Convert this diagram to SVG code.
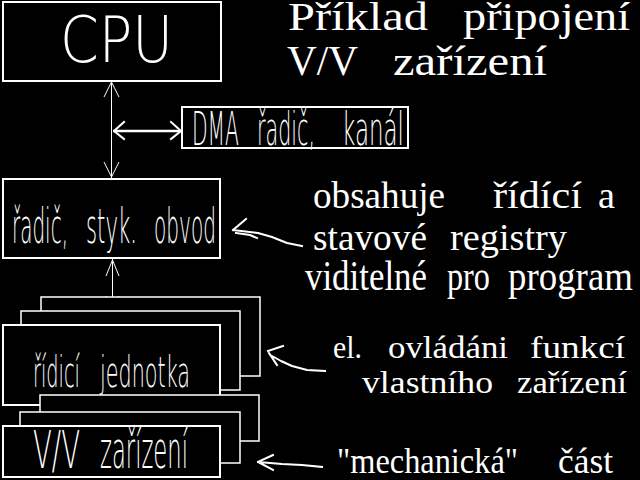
<svg xmlns="http://www.w3.org/2000/svg" width="640" height="480" viewBox="0 0 640 480">
<defs>
<style>
.bg{fill:#000}
.box{fill:#000;stroke:#fff;stroke-width:2}
.bk{fill:#000;stroke:#fff;stroke-width:1.5}
.ln{fill:none;stroke:#fff;stroke-width:1}
.thick{fill:none;stroke:#fff;stroke-width:2.5}
.hand{fill:none;stroke:#fff;stroke-width:2;stroke-linecap:square;stroke-linejoin:round}
.sans{font-family:"DejaVu Sans","Liberation Sans",sans-serif;font-weight:200;fill:#fff}
.serif{font-family:"Liberation Serif","DejaVu Serif",serif;fill:#fff}
</style>
</defs>
<rect class="bg" x="0" y="0" width="640" height="480"/>

<g id="title">
<text class="serif" font-size="41" y="30"><tspan x="288" textLength="140" lengthAdjust="spacingAndGlyphs">Příklad</tspan><tspan x="463" textLength="167" lengthAdjust="spacingAndGlyphs">připojení</tspan></text>
<text class="serif" font-size="42" y="75"><tspan x="287" textLength="71" lengthAdjust="spacingAndGlyphs">V/V</tspan><tspan x="393" textLength="154" lengthAdjust="spacingAndGlyphs">zařízení</tspan></text>
</g>

<g id="connectors">
<line class="ln" x1="111.5" y1="81" x2="111.5" y2="178"/>
<polyline class="ln" points="104,97 111.5,82 119,97"/>
<polyline class="ln" points="104,162 111.5,177 119,162"/>
<line class="thick" x1="113" y1="131" x2="182" y2="131"/>
<polyline class="hand" points="124,122 114,131 124,139"/>
<polyline class="hand" points="171,122 181,131 171,139"/>
<line class="ln" x1="112.5" y1="258" x2="112.5" y2="311"/>
<polyline class="ln" points="106,276 112.5,260 119,276"/>
<polyline class="ln" points="106,296 112.5,310 119,296"/>
<path class="hand" d="M302,246 L287,243 L272,237 L258,233 L233,230 M233,230 L246,219 M236,233 L250,235 L257,238"/>
<path class="hand" d="M325,371 L307,370 L292,366 L281,361 L272,356 M268,351 L283,346 M269,353 L277,365"/>
<path class="hand" d="M322,467 L302,465 L282,464 L258,462 M258,462 L273,455 M260,463 L273,470"/>
</g>

<g id="cpu">
<rect class="box" x="3" y="2" width="218" height="79"/>
<text class="sans" font-size="52" transform="translate(0,62) scale(1,1.24)" x="60" y="0" textLength="113" lengthAdjust="spacingAndGlyphs">CPU</text>
</g>

<g id="dma">
<rect class="box" x="182" y="107" width="226" height="41"/>
<text class="sans" font-size="21" transform="translate(0,145) scale(1,2.22)" y="0"><tspan x="192" textLength="47" lengthAdjust="spacingAndGlyphs">DMA</tspan><tspan x="257" textLength="58" lengthAdjust="spacingAndGlyphs">řadič,</tspan><tspan x="342" textLength="62" lengthAdjust="spacingAndGlyphs">kanál</tspan></text>
</g>

<g id="radic">
<rect class="box" x="3" y="179" width="217" height="79"/>
<text class="sans" font-size="20.5" transform="translate(0,243) scale(1,2.37)" y="0"><tspan x="12" textLength="56" lengthAdjust="spacingAndGlyphs">řadič,</tspan><tspan x="86" textLength="51" lengthAdjust="spacingAndGlyphs">styk.</tspan><tspan x="154" textLength="62" lengthAdjust="spacingAndGlyphs">obvod</tspan></text>
</g>

<g id="ridici">
<rect class="bk" x="41" y="297" width="219" height="79"/>
<rect class="bk" x="21" y="311" width="219" height="79"/>
<rect class="box" x="3" y="325" width="217" height="80"/>
<text class="sans" font-size="20" transform="translate(0,387) scale(1,2.15)" y="0"><tspan x="33" textLength="47" lengthAdjust="spacingAndGlyphs">řídicí</tspan><tspan x="100" textLength="90" lengthAdjust="spacingAndGlyphs">jednotka</tspan></text>
</g>

<g id="vv">
<rect class="bk" x="40" y="395" width="219" height="46"/>
<rect class="bk" x="20" y="412" width="220" height="51"/>
<rect class="box" x="3" y="426" width="217" height="51"/>
<text class="sans" font-size="23" transform="translate(0,468) scale(1,2.27)" y="0"><tspan x="33" textLength="47" lengthAdjust="spacingAndGlyphs">V/V</tspan><tspan x="100" textLength="88" lengthAdjust="spacingAndGlyphs">zařízení</tspan></text>
</g>

<g id="notes">
<text class="serif" font-size="37" y="208"><tspan x="313" textLength="132" lengthAdjust="spacingAndGlyphs">obsahuje</tspan><tspan x="493" textLength="89" lengthAdjust="spacingAndGlyphs">řídící</tspan><tspan x="598" textLength="17" lengthAdjust="spacingAndGlyphs">a</tspan></text>
<text class="serif" font-size="38" y="250"><tspan x="313" textLength="114" lengthAdjust="spacingAndGlyphs">stavové</tspan><tspan x="450" textLength="117" lengthAdjust="spacingAndGlyphs">registry</tspan></text>
<text class="serif" font-size="36" transform="translate(0,290) scale(1,1.2)" y="0"><tspan x="305" textLength="122" lengthAdjust="spacingAndGlyphs">viditelné</tspan><tspan x="447" textLength="43" lengthAdjust="spacingAndGlyphs">pro</tspan><tspan x="508" textLength="125" lengthAdjust="spacingAndGlyphs">program</tspan></text>
<text class="serif" font-size="32" y="358"><tspan x="333" textLength="29" lengthAdjust="spacingAndGlyphs">el.</tspan><tspan x="388" textLength="120" lengthAdjust="spacingAndGlyphs">ovládáni</tspan><tspan x="530" textLength="95" lengthAdjust="spacingAndGlyphs">funkcí</tspan></text>
<text class="serif" font-size="32" y="393"><tspan x="362" textLength="131" lengthAdjust="spacingAndGlyphs">vlastního</tspan><tspan x="517" textLength="110" lengthAdjust="spacingAndGlyphs">zařízení</tspan></text>
<text class="serif" font-size="35" y="473"><tspan x="337" textLength="181" lengthAdjust="spacingAndGlyphs">"mechanická"</tspan><tspan x="558" textLength="55" lengthAdjust="spacingAndGlyphs">část</tspan></text>
</g>
</svg>
